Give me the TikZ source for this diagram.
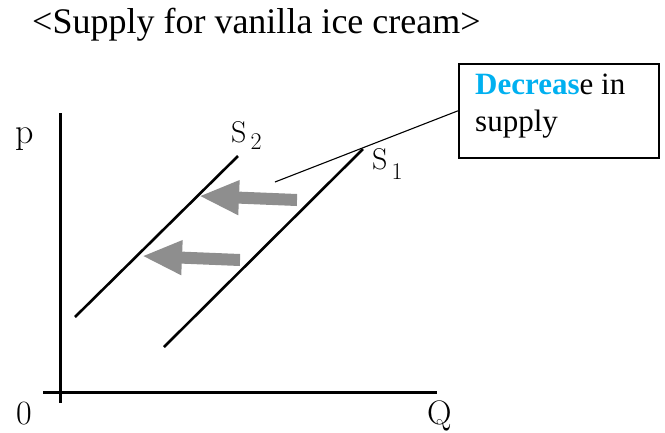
\documentclass[tikz,border=0pt]{standalone}
\usepackage{fontspec}
\newfontfamily\timesfont{Liberation Serif}
\usetikzlibrary{arrows.meta,positioning}
\definecolor{decblue}{HTML}{00B0F0}
\definecolor{arrowgray}{HTML}{8E8E8E}

\begin{document}
\begin{tikzpicture}[
  x=1pt, y=-1pt,
  axis/.style={line width=3pt},
  supply/.style={line width=2.6pt},
  shiftarrow/.style={draw=arrowgray, line width=12pt, -{Triangle[length=40pt,width=32pt]}},
  callout/.style={line width=1.1pt},
  axlabel/.style={inner sep=0pt, font=\fontsize{34}{34}\selectfont},
  slabel/.style={inner sep=0pt, anchor=base west, font=\fontsize{30}{30}\selectfont}
]
  \useasboundingbox (0,0) rectangle (665,432);

  % Title
  \node[inner sep=0pt, anchor=base west, font=\timesfont\fontsize{36}{36}\selectfont] (title) at (32,33) {<Supply for vanilla ice cream>};

  % Axes
  \draw[axis] (60,113) -- (60,403);
  \draw[axis] (43,392) -- (437,392);
  \node[axlabel, anchor=base, font=\fontsize{36}{36}\selectfont] (plab) at (25,143) {p};
  \node[axlabel, anchor=base] (zerolab) at (24,424) {0};
  \node[axlabel, anchor=base west] (qlab) at (427,424) {Q};

  % Supply curves
  \draw[supply] (75,317) -- (238,156);
  \draw[supply] (164,347) -- (363,149);
  \node[slabel] (s2lab) at (231,142) {S{\kern4pt\fontsize{24}{24}\selectfont\raisebox{-7pt}{2}}};
  \node[slabel] (s1lab) at (372,169) {S{\kern4pt\fontsize{24}{24}\selectfont\raisebox{-10pt}{1}}};

  % Shift arrows
  \coordinate (uptail) at (297,200);
  \coordinate (uptip) at (199,196);
  \coordinate (lowtail) at (240,260);
  \coordinate (lowtip) at (142,256);
  \draw[shiftarrow] (uptail) -- (uptip);
  \draw[shiftarrow] (lowtail) -- (lowtip);

  % Callout box
  \node[draw, line width=1.6pt, minimum width=200pt, minimum height=94pt, anchor=north west, inner sep=0pt] (decbox) at (458,63) {};
  \node[inner sep=0pt, anchor=north west, align=left, font=\timesfont\fontsize{31}{37}\selectfont] (dectext) at ([xshift=17pt,yshift=-11pt]decbox.north west) {\textcolor{decblue}{\bfseries Decreas}e in\\supply};
  \coordinate (callpt) at (275,182);
  \draw[callout] (callpt) -- (decbox.west);
\end{tikzpicture}
\end{document}
